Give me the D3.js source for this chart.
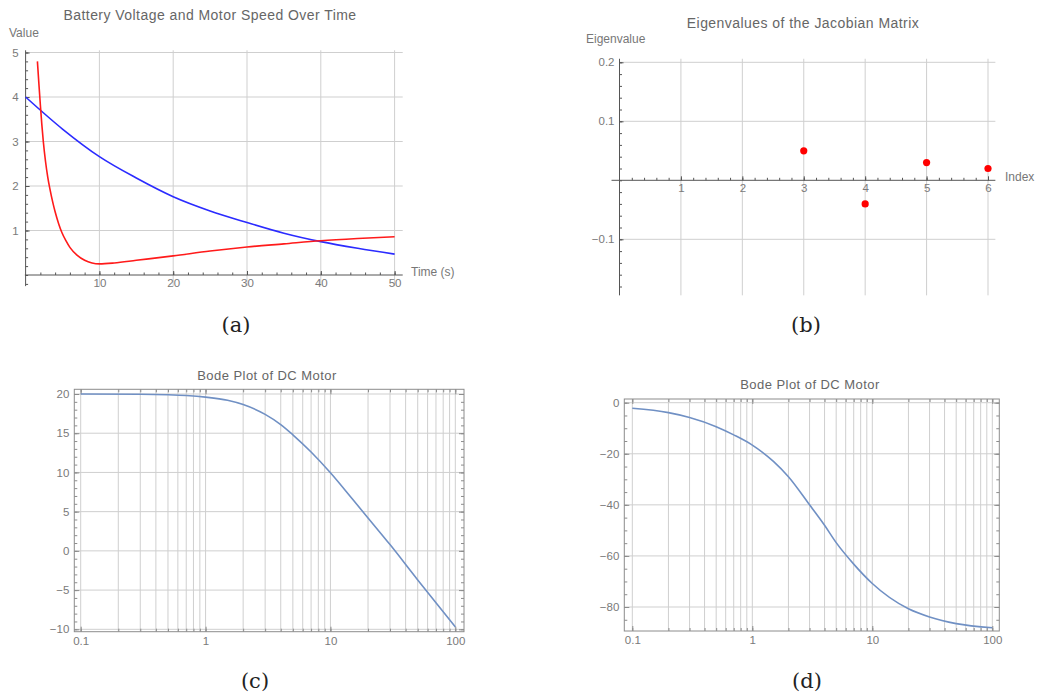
<!DOCTYPE html>
<html>
<head>
<meta charset="utf-8">
<script src="https://cdn.jsdelivr.net/npm/d3@7"></script>
<style>
  body { margin: 0; background: #fff; }
  svg { display: block; }
  text { font-family: "Liberation Sans", Arial, sans-serif; }
  .tick text { fill: #7a7a7a; font-size: 11.5px; font-family: "Liberation Sans", Arial, sans-serif; }
  .title { fill: #666; font-size: 14px; letter-spacing: 0.45px; text-anchor: middle; }
  .alabel { fill: #777; font-size: 12px; }
  .caption { font-family: "DejaVu Serif", serif; font-size: 21px; fill: #222; text-anchor: middle; }
</style>
</head>
<body>
<script>
var width = 1043, height = 693;

// (a) battery voltage and motor speed
var voltT = [0, 5, 10, 15, 20, 25, 30, 35, 40, 45, 50];
var voltV = [4.0, 3.28, 2.66, 2.18, 1.76, 1.44, 1.18, 0.94, 0.75, 0.6, 0.47];
var speedT = [1.6, 1.8, 2.0, 2.2, 2.4, 2.7, 3.0, 3.3, 3.7, 4.0, 4.5, 4.9, 5.5, 6.0, 7.0, 8.0, 9.0, 10, 12, 15, 20, 25, 30, 35, 40, 45, 50];
var speedV = [4.8, 4.3, 3.82, 3.38, 3.0, 2.55, 2.2, 1.93, 1.62, 1.42, 1.14, 0.96, 0.76, 0.62, 0.44, 0.33, 0.27, 0.25, 0.27, 0.33, 0.43, 0.54, 0.63, 0.70, 0.77, 0.82, 0.86];
var aXTicks = [10, 20, 30, 40, 50];
var aYTicks = [1, 2, 3, 4, 5];

// (b) eigenvalues
var eigIndex = [3, 4, 5, 6];
var eigValue = [0.05, -0.04, 0.03, 0.02];
var bXTicks = [1, 2, 3, 4, 5, 6];
var bYTicks = [-0.1, 0.1, 0.2];

// (c) bode magnitude
var magFreq = [0.1, 0.3, 0.5, 0.7, 1, 1.5, 2, 3, 4, 5, 7, 10, 15, 20, 30, 50, 70, 100];
var magDb = [20, 19.97, 19.9, 19.8, 19.6, 19.2, 18.65, 17.4, 16.1, 14.8, 12.6, 9.95, 6.6, 4.2, 0.8, -3.7, -6.6, -9.7];
var cYTicks = [-10, -5, 0, 5, 10, 15, 20];

// (d) bode phase
var phFreq = [0.1, 0.2, 0.3, 0.5, 0.7, 1, 1.5, 2, 3, 4, 5, 7, 10, 20, 30, 50, 100];
var phDeg = [-2.2, -3.9, -5.8, -9.4, -12.6, -16.6, -23, -29, -40, -48, -54.8, -63.2, -70.8, -80.7, -83.9, -86.5, -88.1];
var dYTicks = [-80, -60, -40, -20, 0];

var logTicks = [0.1, 1, 10, 100];

var svg = d3.select("body").append("svg")
    .attr("width", width)
    .attr("height", height);
svg.append("rect").attr("width", width).attr("height", height).attr("fill", "#fff");

var gridColor = "#cfcfcf", axisColor = "#555", frameColor = "#8c8c8c";

// every 1..9 multiple per decade
var logMinor = [];
[0.1, 1, 10].forEach(function(d) {
  for (var k = 1; k < 10; k++) logMinor.push(+(d * k).toPrecision(3));
});
logMinor.push(100);

function range(a, b, s) {
  var out = [];
  for (var v = a; v <= b + s / 1000; v += s) out.push(+v.toFixed(4));
  return out;
}

// ---------- panel (a) ----------
var ax = d3.scaleLinear().domain([0, 50]).range([25.6, 394.6]);
var ay = d3.scaleLinear().domain([0, 5]).range([275, 52.5]);
var ga = svg.append("g");

ga.selectAll("line.vg").data(aXTicks).enter().append("line")
    .attr("x1", ax).attr("x2", ax)
    .attr("y1", ay(5.05)).attr("y2", ay(-0.25))
    .attr("stroke", gridColor);
ga.selectAll("line.hg").data(aYTicks).enter().append("line")
    .attr("x1", ax(0)).attr("x2", ax(51.1))
    .attr("y1", ay).attr("y2", ay)
    .attr("stroke", gridColor);

// y axis: minor then major ticks
ga.append("g").attr("transform", "translate(" + ax(0) + ",0)")
    .call(d3.axisLeft(ay).tickValues(range(-0.2, 5, 0.2)).tickSize(-2.5).tickFormat(""))
    .call(function(g) { g.select(".domain").remove(); g.selectAll("line").attr("stroke", axisColor); });
ga.append("g").attr("transform", "translate(" + ax(0) + ",0)")
    .call(d3.axisLeft(ay).tickValues(aYTicks).tickSize(-4).tickPadding(7).tickFormat(d3.format("d")))
    .call(function(g) { g.select(".domain").remove(); g.selectAll("line").attr("stroke", axisColor); });
ga.append("line").attr("x1", ax(0)).attr("x2", ax(0))
    .attr("y1", ay(5.05)).attr("y2", ay(-0.25)).attr("stroke", axisColor);

// x axis
ga.append("g").attr("transform", "translate(0," + ay(0) + ")")
    .call(d3.axisBottom(ax).tickValues(range(2, 50, 2)).tickSize(-2.5).tickFormat(""))
    .call(function(g) { g.select(".domain").remove(); g.selectAll("line").attr("stroke", axisColor); });
ga.append("g").attr("transform", "translate(0," + ay(0) + ")")
    .call(d3.axisBottom(ax).tickValues(aXTicks).tickSize(-4).tickPadding(4).tickFormat(d3.format("d")))
    .call(function(g) { g.select(".domain").remove(); g.selectAll("line").attr("stroke", axisColor); });
ga.append("line").attr("x1", ax(-0.1)).attr("x2", ax(51.1))
    .attr("y1", ay(0)).attr("y2", ay(0)).attr("stroke", axisColor);

var lineA = d3.line().curve(d3.curveMonotoneX)
    .x(function(d) { return ax(d[0]); })
    .y(function(d) { return ay(d[1]); });
ga.append("path").datum(d3.zip(voltT, voltV))
    .attr("d", lineA).attr("fill", "none").attr("stroke", "#2b2bff").attr("stroke-width", 1.6);
ga.append("path").datum(d3.zip(speedT, speedV))
    .attr("d", lineA).attr("fill", "none").attr("stroke", "#ff1a1a").attr("stroke-width", 1.6);

ga.append("text").attr("class", "title").attr("x", 210).attr("y", 20)
    .text("Battery Voltage and Motor Speed Over Time");
ga.append("text").attr("class", "alabel").attr("x", 9).attr("y", 37).text("Value");
ga.append("text").attr("class", "alabel").attr("x", 411).attr("y", 276).text("Time (s)");

// ---------- panel (b) ----------
var bx = d3.scaleLinear().domain([0, 6]).range([619.5, 988]);
var by = d3.scaleLinear().domain([-0.2, 0.2]).range([298.3, 62.3]);
var gb = svg.append("g");

gb.selectAll("line.vg").data(bXTicks).enter().append("line")
    .attr("x1", bx).attr("x2", bx)
    .attr("y1", by(0.206)).attr("y2", by(-0.195))
    .attr("stroke", gridColor);
gb.selectAll("line.hg").data(bYTicks).enter().append("line")
    .attr("x1", bx(0)).attr("x2", bx(6.12))
    .attr("y1", by).attr("y2", by)
    .attr("stroke", gridColor);

gb.append("g").attr("transform", "translate(" + bx(0) + ",0)")
    .call(d3.axisLeft(by).tickValues(range(-0.18, 0.2, 0.02)).tickSize(-2.5).tickFormat(""))
    .call(function(g) { g.select(".domain").remove(); g.selectAll("line").attr("stroke", axisColor); });
gb.append("g").attr("transform", "translate(" + bx(0) + ",0)")
    .call(d3.axisLeft(by).tickValues(bYTicks).tickSize(-4).tickPadding(5)
      .tickFormat(function(d) { return d < 0 ? "\u22120.1" : d3.format(".1f")(d); }))
    .call(function(g) { g.select(".domain").remove(); g.selectAll("line").attr("stroke", axisColor); });
gb.append("line").attr("x1", bx(0)).attr("x2", bx(0))
    .attr("y1", by(0.206)).attr("y2", by(-0.195)).attr("stroke", axisColor);

gb.append("g").attr("transform", "translate(0," + by(0) + ")")
    .call(d3.axisBottom(bx).tickValues(range(0.2, 6, 0.2)).tickSize(-2.5).tickFormat(""))
    .call(function(g) { g.select(".domain").remove(); g.selectAll("line").attr("stroke", axisColor); });
gb.append("g").attr("transform", "translate(0," + by(0) + ")")
    .call(d3.axisBottom(bx).tickValues(bXTicks).tickSize(-4).tickPadding(4).tickFormat(d3.format("d")))
    .call(function(g) { g.select(".domain").remove(); g.selectAll("line").attr("stroke", axisColor); });
gb.append("line").attr("x1", bx(-0.13)).attr("x2", bx(6.12))
    .attr("y1", by(0)).attr("y2", by(0)).attr("stroke", axisColor);

gb.selectAll("circle").data(d3.zip(eigIndex, eigValue)).enter().append("circle")
    .attr("cx", function(d) { return bx(d[0]); })
    .attr("cy", function(d) { return by(d[1]); })
    .attr("r", 3.6)
    .attr("fill", "#ff0000");

gb.append("text").attr("class", "title").attr("x", 803).attr("y", 28)
    .text("Eigenvalues of the Jacobian Matrix");
gb.append("text").attr("class", "alabel").attr("x", 586).attr("y", 43).text("Eigenvalue");
gb.append("text").attr("class", "alabel").attr("x", 1005).attr("y", 181).text("Index");

// ---------- bode panels ----------
function bodePanel(xs, ys, frame, yTicks, yMinor, freq, vals, title, tx, ty) {
  var g = svg.append("g");
  var x0 = frame[0], x1 = frame[1], y0 = frame[2], y1 = frame[3];

  g.selectAll("line.vg").data(logMinor).enter().append("line")
      .attr("x1", xs).attr("x2", xs).attr("y1", y0).attr("y2", y1)
      .attr("stroke", gridColor);
  g.selectAll("line.hg").data(yTicks).enter().append("line")
      .attr("x1", x0).attr("x2", x1).attr("y1", ys).attr("y2", ys)
      .attr("stroke", gridColor);

  // frame ticks, pointing inward on all four sides
  function styleAxis(sel) {
    sel.select(".domain").remove();
    sel.selectAll("line").attr("stroke", frameColor);
  }
  g.append("g").attr("transform", "translate(0," + y1 + ")")
      .call(d3.axisBottom(xs).tickValues(logMinor).tickSize(-3).tickFormat("")).call(styleAxis);
  g.append("g").attr("transform", "translate(0," + y1 + ")")
      .call(d3.axisBottom(xs).tickValues(logTicks).tickSize(-5).tickPadding(5).tickFormat(d3.format("~g"))).call(styleAxis);
  g.append("g").attr("transform", "translate(0," + y0 + ")")
      .call(d3.axisTop(xs).tickValues(logMinor).tickSize(-3).tickFormat("")).call(styleAxis);
  g.append("g").attr("transform", "translate(0," + y0 + ")")
      .call(d3.axisTop(xs).tickValues(logTicks).tickSize(-5).tickFormat("")).call(styleAxis);

  var fmt = function(d) { return d < 0 ? "\u2212" + Math.abs(d) : d; };
  g.append("g").attr("transform", "translate(" + x0 + ",0)")
      .call(d3.axisLeft(ys).tickValues(yMinor).tickSize(-3).tickFormat("")).call(styleAxis);
  g.append("g").attr("transform", "translate(" + x0 + ",0)")
      .call(d3.axisLeft(ys).tickValues(yTicks).tickSize(-5).tickPadding(5).tickFormat(fmt)).call(styleAxis);
  g.append("g").attr("transform", "translate(" + x1 + ",0)")
      .call(d3.axisRight(ys).tickValues(yMinor).tickSize(-3).tickFormat("")).call(styleAxis);
  g.append("g").attr("transform", "translate(" + x1 + ",0)")
      .call(d3.axisRight(ys).tickValues(yTicks).tickSize(-5).tickFormat("")).call(styleAxis);

  g.append("rect").attr("x", x0).attr("y", y0)
      .attr("width", x1 - x0).attr("height", y1 - y0)
      .attr("fill", "none").attr("stroke", frameColor);

  var line = d3.line().curve(d3.curveMonotoneX)
      .x(function(d) { return xs(d[0]); })
      .y(function(d) { return ys(d[1]); });
  g.append("path").datum(d3.zip(freq, vals))
      .attr("d", line).attr("fill", "none")
      .attr("stroke", "#7090c4").attr("stroke-width", 1.6);

  g.append("text").attr("class", "title").attr("x", tx).attr("y", ty)
      .style("font-size", "13px").text(title);
}

var cx = d3.scaleLog().domain([0.1, 100]).range([80.7, 455.3]);
var cy = d3.scaleLinear().domain([-10, 20]).range([629.3, 394]);
bodePanel(cx, cy, [74.3, 464, 389.3, 631.7], cYTicks, range(-10, 20, 1),
  magFreq, magDb, "Bode Plot of DC Motor", 267, 380);

var dx = d3.scaleLog().domain([0.1, 100]).range([632.3, 992.3]);
var dy = d3.scaleLinear().domain([-80, 0]).range([607, 402.7]);
bodePanel(dx, dy, [624.3, 999.3, 399, 631], dYTicks, range(-85, 0, 5),
  phFreq, phDeg, "Bode Plot of DC Motor", 810, 389);

// captions
var captions = ["(a)", "(b)", "(c)", "(d)"];
var capX = [236, 806, 255, 807], capY = [332, 332, 688, 688];
svg.selectAll("text.caption").data(captions).enter().append("text")
    .attr("class", "caption")
    .attr("x", function(d, i) { return capX[i]; })
    .attr("y", function(d, i) { return capY[i]; })
    .text(function(d) { return d; });
</script>
</body>
</html>
